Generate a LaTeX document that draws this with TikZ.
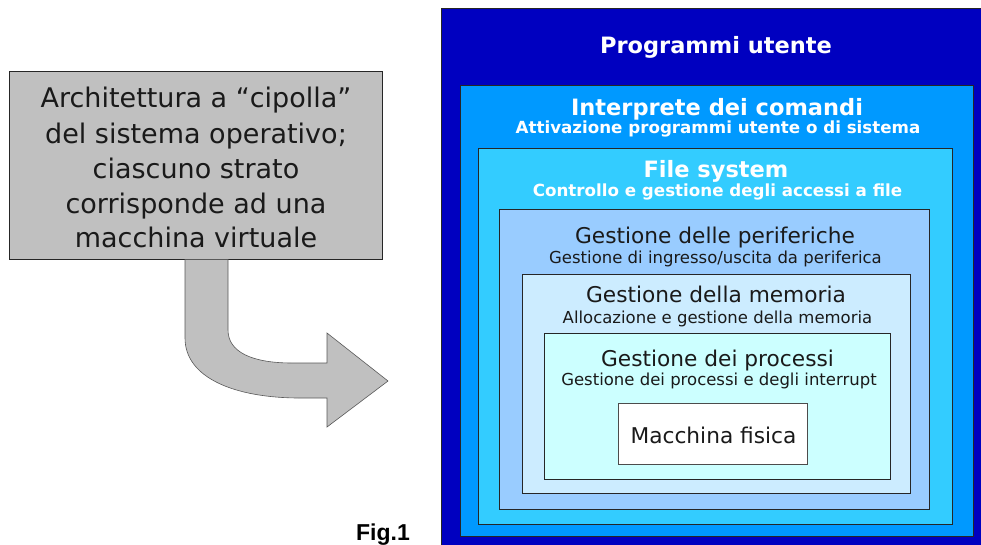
\documentclass[tikz,border=0pt]{standalone}
\usepackage{fontspec}
\setmainfont{DejaVu Sans}
\newfontfamily\figfont{Liberation Sans}
\definecolor{cL1}{HTML}{0000C0}
\definecolor{cL2}{HTML}{0099FF}
\definecolor{cL3}{HTML}{33CCFF}
\definecolor{cL4}{HTML}{99CCFF}
\definecolor{cL5}{HTML}{CCECFF}
\definecolor{cL6}{HTML}{CCFFFF}
\definecolor{cgrey}{HTML}{C0C0C0}
\definecolor{ctext}{HTML}{1A1A1A}
\begin{document}
\begin{tikzpicture}[x=1pt,y=-1pt,
  layer/.style={draw=black!85, line width=0.8pt, inner sep=0pt, outer sep=0pt, rectangle},
  wtitle/.style={anchor=base, text=white, font=\fontsize{22.5}{26}\selectfont\bfseries, inner sep=0pt},
  wsub/.style={anchor=base, text=white, font=\fontsize{16.7}{20}\selectfont\bfseries, inner sep=0pt},
  dtitle/.style={anchor=base, text=ctext, font=\fontsize{21.7}{26}\selectfont, inner sep=0pt},
  dsub/.style={anchor=base, text=ctext, font=\fontsize{16.5}{20}\selectfont, inner sep=0pt},
  greyline/.style={anchor=base, text=ctext, font=\fontsize{27}{32}\selectfont, inner sep=0pt}]
\useasboundingbox (0,0) rectangle (981,544);
\clip (0,0) rectangle (981,544);
\fill[white] (0,0) rectangle (981,544);

% onion layers
\node[layer, fill=cL1, minimum width=549pt, minimum height=547pt] (L1) at (715.5,281.5) {};
\node[layer, fill=cL2, minimum width=513pt, minimum height=451pt] (L2) at (716.5,310.5) {};
\node[layer, fill=cL3, minimum width=474.5pt, minimum height=376pt] (L3) at (715.25,336) {};
\node[layer, fill=cL4, minimum width=430pt, minimum height=300pt] (L4) at (714,359) {};
\node[layer, fill=cL5, minimum width=388pt, minimum height=219pt] (L5) at (716,383.5) {};
\node[layer, fill=cL6, minimum width=346pt, minimum height=146pt] (L6) at (717,406) {};
\node[layer, draw=black!70, fill=white, minimum width=189pt, minimum height=61pt] (MF) at (712.5,433.5) {};

% texts
\node[wtitle] (t1) at (716,53) {Programmi utente};
\node[wtitle] (t2) at (717,115) {Interprete dei comandi};
\node[wsub] (s2) at (718,133) {Attivazione programmi utente o di sistema};
\node[wtitle] (t3) at (716,177) {File system};
\node[wsub] (s3) at (717.5,196) {Controllo e gestione degli accessi a file};
\node[dtitle] (t4) at (715,243) {Gestione delle periferiche};
\node[dsub] (s4) at (715.5,263) {Gestione di ingresso/uscita da periferica};
\node[dtitle] (t5) at (716,302) {Gestione della memoria};
\node[dsub] (s5) at (717.5,323) {Allocazione e gestione della memoria};
\node[dtitle] (t6) at (717.5,366) {Gestione dei processi};
\node[dsub] (s6) at (719,385) {Gestione dei processi e degli interrupt};
\node[dtitle] (t7) at (713.5,443) {Macchina fisica};

% grey box
\node[layer, fill=cgrey, minimum width=373pt, minimum height=188pt] (G) at (195.5,165) {};
\node[greyline] (g1) at (196,107) {Architettura a “cipolla”};
\node[greyline] (g2) at (196,143) {del sistema operativo;};
\node[greyline] (g3) at (196,178) {ciascuno strato};
\node[greyline] (g4) at (196,213) {corrisponde ad una};
\node[greyline] (g5) at (196,247) {macchina virtuale};

% curved arrow
\draw[fill=cgrey, draw=black!65, line width=0.6pt]
  (185,259.5) -- (185,338)
  .. controls (185,378) and (235,398) .. (300,398)
  -- (327,398) -- (327,427) -- (388,381) -- (327,333) -- (327,363)
  -- (292,363)
  .. controls (252,363) and (228,352) .. (228,330)
  -- (228,259.5) -- cycle;

% caption
\node[anchor=base, inner sep=0pt, font=\figfont\fontsize{23}{28}\selectfont\bfseries] (fig) at (383,540) {Fig.1};
\end{tikzpicture}
\end{document}
